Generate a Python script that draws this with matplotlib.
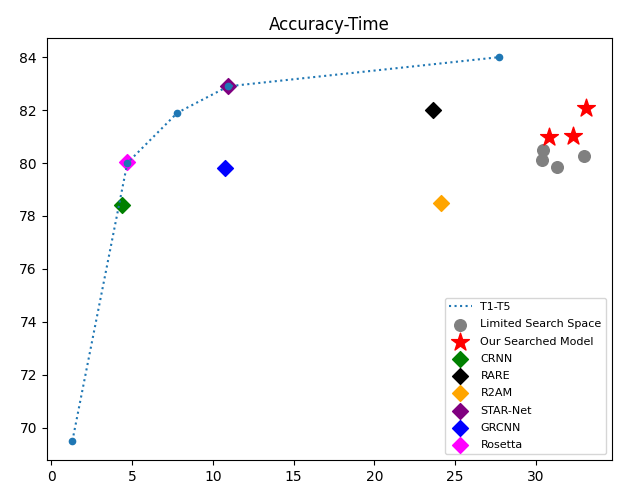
import numpy as np
import matplotlib
matplotlib.use("Agg")
import matplotlib.pyplot as plt

# T1-T5 searched points (time, accuracy)
t_time = [1.3, 4.7, 7.8, 10.95, 27.7]
t_acc = [69.5, 80.0, 81.9, 82.9, 84.0]

# limited search space samples
lim_time = [30.45, 30.4, 31.3, 33.0]
lim_acc = [80.48, 80.13, 79.85, 80.28]

# our searched models
our_time = [30.8, 32.3, 33.1]
our_acc = [80.97, 81.02, 82.09]

# baselines
base_names = ["CRNN", "RARE", "R2AM", "STAR-Net", "GRCNN", "Rosetta"]
base_time = [4.4, 23.6, 24.15, 10.95, 10.75, 4.7]
base_acc = [78.42, 82.0, 78.49, 82.91, 79.8, 80.02]
base_colors = ["green", "black", "orange", "purple", "blue", "magenta"]

fig = plt.figure(figsize=(6.18, 4.91), dpi=100)
ax = fig.add_axes([0.0756, 0.0631, 0.9142, 0.8595])

ax.plot(t_time, t_acc, ':', color="tab:blue", label="T1-T5")
ax.plot(t_time, t_acc, 'o', color="tab:blue", markersize=4.5)

ax.scatter(lim_time, lim_acc, s=70, color="gray", label="Limited Search Space")
ax.scatter(our_time, our_acc, s=180, marker="*", color="red", label="Our Searched Model")
for name, x, y, c in zip(base_names, base_time, base_acc, base_colors):
    ax.scatter(x, y, s=65, marker="D", color=c, label=name)

ax.set_title("Accuracy-Time")
ax.legend(loc="lower right", fontsize=8, labelspacing=0.65)

fig.savefig("out.png", dpi=100)
